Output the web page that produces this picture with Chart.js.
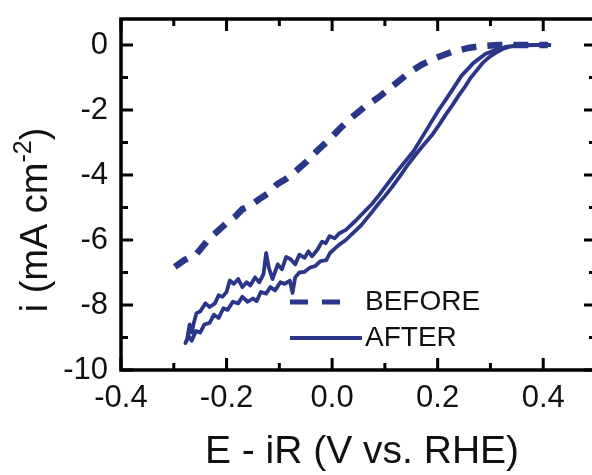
<!DOCTYPE html>
<html><head><meta charset="utf-8">
<script src="https://cdn.jsdelivr.net/npm/chart.js@4.4.1/dist/chart.umd.min.js"></script>
<style>html,body{margin:0;padding:0;background:#fff;overflow:hidden;width:592px;height:475px}canvas{display:block}</style>
</head><body>
<canvas id="c" width="598" height="475" style="width:598px;height:475px"></canvas>
<script>
const xTickValues = [-0.4, -0.2, 0, 0.2, 0.4];
const xTickLabels = ['-0.4', '-0.2', '0.0', '0.2', '0.4'];
const xMinorValues = [-0.3, -0.1, 0.1, 0.3];
const yTickValues = [-10, -8, -6, -4, -2, 0];
const yTickLabels = ['-10', '-8', '-6', '-4', '-2', '0'];
const yMinorValues = [-9, -7, -5, -3, -1];
const seriesLabels = ['BEFORE', 'AFTER'];
const xTitle = 'E - iR (V vs. RHE)';
const yTitleMain = 'i (mA cm';
const yTitleSup = '-2';
const yTitleEnd = ')';

const beforeE = [-0.298,-0.280,-0.257,-0.232,-0.215,-0.202,-0.185,-0.170,-0.155,-0.138,-0.120,-0.104,-0.090,-0.075,-0.049,-0.028,-0.006,0.016,0.038,0.062,0.089,0.118,0.145,0.170,0.196,0.226,0.258,0.285,0.315,0.360,0.409];
const beforeI = [-6.83,-6.62,-6.43,-5.94,-5.70,-5.51,-5.30,-5.05,-4.95,-4.74,-4.55,-4.28,-4.15,-3.97,-3.60,-3.25,-2.92,-2.55,-2.22,-1.90,-1.60,-1.22,-0.86,-0.60,-0.40,-0.22,-0.09,-0.03,0.00,0.00,0.00];

const afterE = [0.415,0.380,0.353,0.328,0.310,0.291,0.268,0.245,0.225,0.202,0.185,0.170,0.155,0.140,0.125,0.113,0.100,0.089,0.075,0.064,0.045,0.026,
 0.013,0.005,-0.005,-0.012,-0.019,-0.028,-0.038,-0.045,-0.052,-0.062,-0.070,-0.078,-0.087,-0.095,-0.103,-0.113,-0.120,-0.125,-0.130,-0.138,-0.146,-0.155,-0.162,-0.170,-0.178,-0.186,-0.194,-0.200,-0.208,-0.215,-0.222,-0.232,-0.240,-0.250,-0.257,-0.262,-0.266,-0.270,-0.275,
 -0.278,-0.272,-0.266,-0.258,-0.250,-0.242,-0.232,-0.224,-0.215,-0.206,-0.198,-0.188,-0.178,-0.170,-0.160,-0.150,-0.143,-0.135,-0.125,-0.117,-0.108,-0.098,-0.090,-0.080,-0.075,-0.070,-0.062,-0.052,-0.042,-0.032,-0.022,-0.011,-0.004,0.004,0.013,0.026,
 0.040,0.055,0.075,0.087,0.100,0.113,0.128,0.142,0.157,0.172,0.189,0.203,0.215,0.228,0.240,0.252,0.262,0.274,0.285,0.297,0.309,0.322,0.335,0.347,0.365,0.390,0.415];
const afterI = [0.00,0.00,-0.01,-0.06,-0.15,-0.27,-0.55,-0.95,-1.45,-2.00,-2.45,-2.85,-3.25,-3.55,-3.85,-4.10,-4.38,-4.62,-4.90,-5.08,-5.40,-5.69,
 -5.80,-5.95,-5.88,-6.10,-6.05,-6.30,-6.50,-6.35,-6.55,-6.45,-6.75,-6.60,-6.52,-6.90,-6.75,-7.20,-6.85,-6.40,-7.05,-7.30,-7.15,-7.40,-7.30,-7.45,-7.20,-7.35,-7.25,-7.60,-7.75,-7.70,-7.95,-8.06,-7.95,-8.20,-8.25,-8.55,-8.85,-8.60,-9.08,
 -9.17,-8.95,-9.10,-8.80,-8.85,-8.60,-8.55,-8.30,-8.40,-8.10,-8.15,-7.90,-7.95,-7.75,-7.90,-7.80,-7.88,-7.60,-7.65,-7.45,-7.55,-7.30,-7.35,-7.25,-7.63,-7.15,-7.00,-6.98,-6.85,-6.80,-6.65,-6.62,-6.40,-6.28,-6.15,-6.00,
 -5.78,-5.55,-5.15,-4.90,-4.65,-4.38,-4.05,-3.72,-3.40,-3.10,-2.78,-2.45,-2.15,-1.85,-1.55,-1.28,-1.02,-0.78,-0.56,-0.38,-0.25,-0.13,-0.06,-0.03,-0.01,0.00,0.00];

const navy = '#2a3688';
const FONT = "'Liberation Sans', Arial, sans-serif";
const toPts = (xs, ys) => xs.map((v, i) => ({x: v, y: ys[i]}));

const framePlugin = {
  id: 'frame',
  afterDatasetsDraw(chart) {
    const {ctx, chartArea: a, scales: {x, y}} = chart;
    ctx.save();
    ctx.strokeStyle = '#000';
    ctx.lineWidth = 3.5;
    ctx.strokeRect(a.left, a.top, a.right - a.left, a.bottom - a.top);
    ctx.lineWidth = 3;
    ctx.beginPath();
    const xt = (vals, len) => vals.forEach(v => {
      const p = x.getPixelForValue(v);
      ctx.moveTo(p, a.bottom); ctx.lineTo(p, a.bottom - len);
      ctx.moveTo(p, a.top); ctx.lineTo(p, a.top + len);
    });
    const yt = (vals, len) => vals.forEach(v => {
      const p = y.getPixelForValue(v);
      ctx.moveTo(a.left, p); ctx.lineTo(a.left + len, p);
      ctx.moveTo(a.right, p); ctx.lineTo(a.right - len, p);
    });
    xt(xTickValues, 12); xt(xMinorValues, 7);
    yt(yTickValues, 12); yt(yMinorValues, 7);
    ctx.stroke();
    ctx.restore();
  },
  afterDraw(chart) {
    const {ctx, chartArea: a} = chart;
    ctx.save();
    ctx.fillStyle = '#111';
    ctx.font = '39px ' + FONT;
    ctx.textAlign = 'center';
    ctx.textBaseline = 'middle';
    ctx.fillText(chart.options.scales.x.title.text, 362, 452);
    ctx.restore();
    ctx.save();
    ctx.translate(37, 220);
    ctx.rotate(-Math.PI / 2);
    ctx.fillStyle = '#111';
    ctx.textBaseline = 'middle';
    ctx.textAlign = 'left';
    const big = '38px ' + FONT, small = '25px ' + FONT;
    ctx.font = big; const w1 = ctx.measureText(yTitleMain).width; const w3 = ctx.measureText(yTitleEnd).width;
    ctx.font = small; const w2 = ctx.measureText(yTitleSup).width;
    let sx = -(w1 + w2 + w3) / 2;
    ctx.font = big; ctx.fillText(yTitleMain, sx, 0); sx += w1;
    ctx.font = small; ctx.fillText(yTitleSup, sx, -13); sx += w2;
    ctx.font = big; ctx.fillText(yTitleEnd, sx, 0);
    ctx.restore();
    ctx.save();
    const ds = chart.data.datasets;
    const lx = a.left + 169;
    const rows = [{y: 302, len: 52}, {y: 338, len: 72}];
    ds.forEach((d, i) => {
      const r = rows[i];
      ctx.strokeStyle = d.borderColor;
      ctx.lineWidth = i === 0 ? 5 : 3.8;
      ctx.setLineDash(i === 0 ? [18, 14] : []);
      ctx.beginPath(); ctx.moveTo(lx, r.y); ctx.lineTo(lx + r.len, r.y); ctx.stroke();
      ctx.setLineDash([]);
      ctx.fillStyle = '#111';
      ctx.font = '28px ' + FONT;
      ctx.textBaseline = 'middle';
      ctx.fillText(d.label, lx + 75, r.y);
    });
    ctx.restore();
  }
};

new Chart(document.getElementById('c'), {
  type: 'scatter',
  data: {
    datasets: [
      {label: seriesLabels[0], data: toPts(beforeE, beforeI), showLine: true, borderColor: navy, backgroundColor: navy,
       borderWidth: 6.5, borderDash: [15, 11], pointRadius: 0, tension: 0},
      {label: seriesLabels[1], data: toPts(afterE, afterI), showLine: true, borderColor: navy, backgroundColor: navy,
       borderWidth: 3.8, pointRadius: 0, tension: 0, borderJoinStyle: 'round'}
    ]
  },
  options: {
    responsive: false, animation: false, devicePixelRatio: 1,
    layout: {padding: {top: 19, right: 2, left: 0, bottom: 0}},
    plugins: {legend: {display: false}, tooltip: {enabled: false}},
    scales: {
      x: {
        type: 'linear', min: -0.4, max: 0.5,
        grid: {display: false, drawTicks: false}, border: {display: false},
        afterBuildTicks: s => { s.ticks = xTickValues.map(v => ({value: v})); },
        afterFit: s => { s.height = 105; s.paddingLeft = 0; s.paddingRight = 0; },
        ticks: {autoSkip: false, maxRotation: 0, padding: 10, color: '#111', font: {family: FONT, size: 31},
                callback: (v, i) => xTickLabels[i]},
        title: {display: false, text: xTitle}
      },
      y: {
        type: 'linear', min: -10, max: 0.8,
        grid: {display: false, drawTicks: false}, border: {display: false},
        afterBuildTicks: s => { s.ticks = yTickValues.map(v => ({value: v})); },
        afterFit: s => { s.width = 121; s.paddingTop = 0; s.paddingBottom = 0; },
        ticks: {autoSkip: false, padding: 13, color: '#111', font: {family: FONT, size: 31},
                callback: (v, i) => yTickLabels[i]},
        title: {display: false, text: yTitleMain + yTitleSup + yTitleEnd}
      }
    }
  },
  plugins: [framePlugin]
});
</script>
</body></html>
